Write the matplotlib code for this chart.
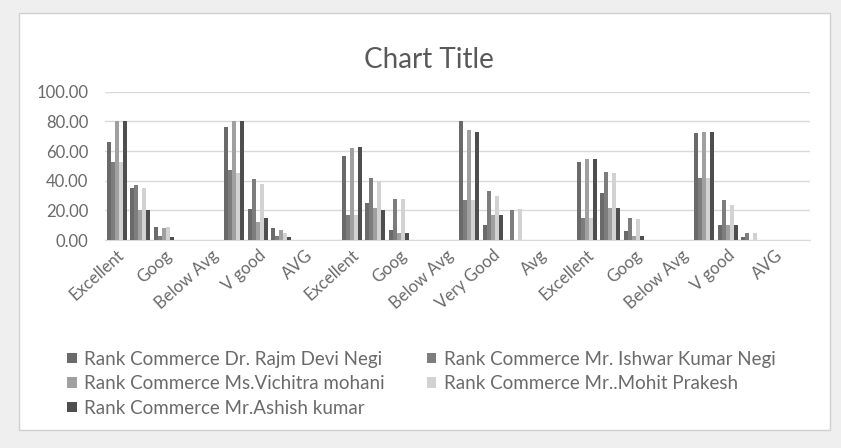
import matplotlib
matplotlib.use("Agg")
import matplotlib.pyplot as plt
from matplotlib.patches import Rectangle, Patch
import numpy as np

plt.rcParams['font.family'] = ['Lato', 'DejaVu Sans']

categories = [
    "Excellent", "V good", "Goog", "AVG", "Below Avg",
    "Excellent", "V good", "Goog", "AVG", "Below Avg",
    "Excellent", "Very Good", "Goog", "Avg", "Below Avg",
    "Excellent", "Very Good", "Goog", "Avg", "Below Avg",
    "Excellent", "V good", "Goog", "AVG", "Below Avg",
    "Excellent", "V good", "Goog", "AVG", "Below Avg",
]

series_names = [
    "Rank Commerce Dr. Rajm Devi Negi",
    "Rank Commerce Mr. Ishwar Kumar Negi",
    "Rank Commerce Ms.Vichitra mohani",
    "Rank Commerce Mr..Mohit Prakesh",
    "Rank Commerce Mr.Ashish kumar",
]

s1 = [66, 35, 9, 0, 0, 76, 21, 8, 0, 0, 57, 25, 7, 0, 0,
      80, 10, 0, 0, 0, 53, 32, 6, 0, 0, 72, 10, 2, 0, 0]
s2 = [53, 37, 3, 0, 0, 47, 41, 3, 0, 0, 17, 42, 28, 0, 0,
      27, 33, 20, 0, 0, 15, 46, 15, 0, 0, 42, 27, 5, 0, 0]
s3 = [80, 20, 8, 0, 0, 80, 12, 7, 0, 0, 62, 22, 5, 0, 0,
      74, 17, 0, 0, 0, 55, 22, 3, 0, 0, 73, 10, 0, 0, 0]
s4 = [53, 35, 9, 0, 0, 45, 38, 5, 0, 0, 17, 40, 28, 0, 0,
      27, 30, 21, 0, 0, 15, 45, 14, 0, 0, 42, 24, 5, 0, 0]
s5 = [80, 20, 2, 0, 0, 80, 15, 2, 0, 0, 63, 20, 5, 0, 0,
      73, 17, 0, 0, 0, 55, 22, 3, 0, 0, 73, 10, 0, 0, 0]

yticks = [0, 20, 40, 60, 80, 100]
series = [s1, s2, s3, s4, s5]
colors = ["#6a6a6a", "#7d7d7d", "#a0a0a0", "#d2d2d2", "#4e4e4e"]

fig = plt.figure(figsize=(8.41, 4.48), dpi=100, facecolor="#efefef")
bg = Rectangle((0.022, 0.04), 0.965, 0.93, transform=fig.transFigure,
               facecolor="white", edgecolor="#d0d0d0", lw=1, zorder=-5)
fig.add_artist(bg)

ax = fig.add_axes([0.125, 0.464, 0.838, 0.331])
ax.set_zorder(2)
ax.set_facecolor("none")
x = np.arange(len(categories))
w = 0.17
for i, (vals, c) in enumerate(zip(series, colors)):
    ax.bar(x + (i - 2) * w, vals, width=w, color=c, label=series_names[i], zorder=3)

ax.set_xlim(-0.5, len(categories) - 0.5)
ax.set_ylim(0, 100)
ax.set_yticks(yticks)
ax.set_yticklabels([f"{v:.2f}" for v in yticks], color="#6a6a6a", fontsize=12)
ax.yaxis.grid(True, color="#d9d9d9", lw=1, zorder=0)
ax.tick_params(axis="both", length=0)
ax.tick_params(axis="y", pad=12)
ax.tick_params(axis="x", pad=5)
ax.set_xticks(x[::2])
ax.set_xticklabels(categories[::2], rotation=42, ha="right", rotation_mode="anchor",
                   color="#6a6a6a", fontsize=12)
for s in ["top", "right", "left"]:
    ax.spines[s].set_visible(False)
ax.spines["bottom"].set_color("#d9d9d9")

fig.text(0.51, 0.865, "Chart Title", ha="center", va="center", fontsize=20, color="#595959")

order = [0, 2, 4, 1, 3]
handles = [Patch(facecolor=colors[i]) for i in order]
labels = [series_names[i] for i in order]
fig.legend(handles, labels, ncol=2, loc="upper left", bbox_to_anchor=(0.08, 0.217),
           frameon=False, fontsize=13.5, labelcolor="#6a6a6a", handlelength=0.5,
           handleheight=0.5, handletextpad=0.4, columnspacing=2.25, labelspacing=0.4,
           borderpad=0, borderaxespad=0)

fig.savefig("out.png", dpi=100, facecolor=fig.get_facecolor())
